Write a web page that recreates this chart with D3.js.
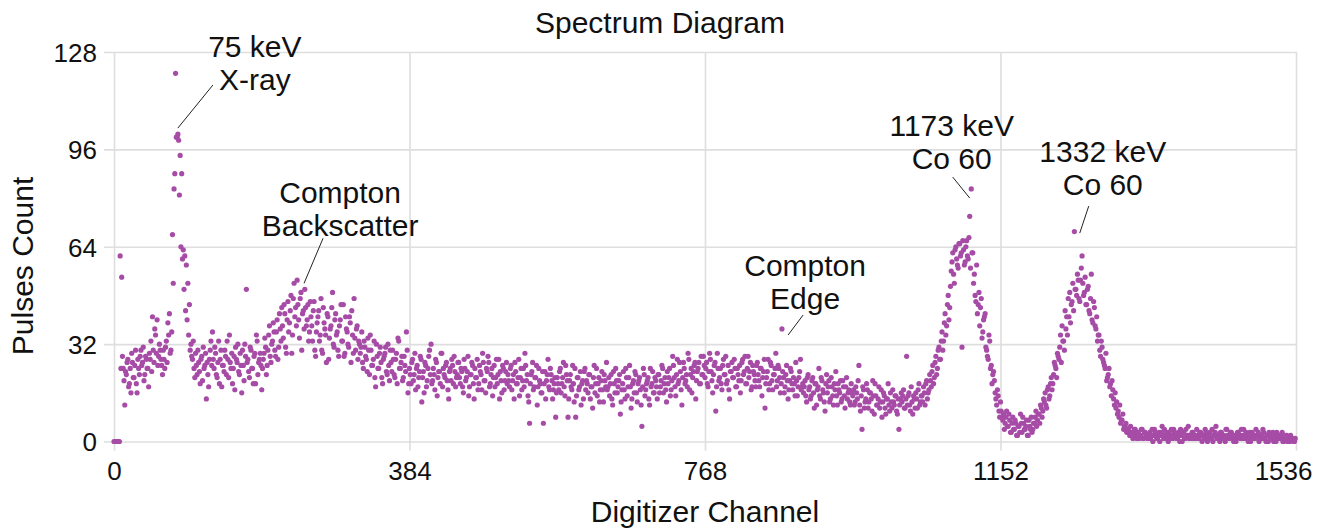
<!DOCTYPE html>
<html>
<head>
<meta charset="utf-8">
<script src="https://cdn.jsdelivr.net/npm/d3@7"></script>
<style>
  body { margin: 0; background: #fff; }
  svg text { font-family: "Liberation Sans", Arial, sans-serif; fill: #111; }
</style>
</head>
<body>
<div id="chart"></div>
<script>
// pulse counts on even channels (0, 2, 4 .. 1534)
var countsEven = [
  0,0,0,0,61,54,24,12,22,27,19,16,26,21,30,16,24,28,25,31,22,27,24,29,33,41,26,35,40,28,30,25,
  30,24,33,39,42,30,68,83,121,100,99,94,88,63,61,58,52,45,32,27,24,29,22,26,19,28,31,25,14,22,27,33,
  36,24,29,21,33,27,18,25,30,22,27,35,24,19,28,31,26,23,29,16,25,32,50,27,21,30,24,28,19,33,26,29,
  17,27,34,22,30,38,26,33,36,28,40,31,37,44,34,42,29,46,39,48,35,52,44,53,40,47,30,43,50,38,45,36,
  41,33,46,28,39,43,35,30,44,37,26,41,34,38,49,31,42,36,28,40,33,45,29,37,32,41,26,35,47,30,38,33,
  29,36,24,31,27,34,22,30,25,33,18,28,24,31,21,27,29,23,32,20,26,30,22,27,19,33,24,28,21,25,36,16,
  24,19,27,22,17,25,21,28,13,23,26,18,24,30,32,20,22,27,15,23,19,29,24,21,26,17,23,20,25,28,18,22,
  26,19,23,16,24,21,28,18,22,25,14,21,27,19,23,17,26,20,24,28,18,22,15,25,21,19,27,23,16,24,20,26,
  22,18,25,20,14,23,19,27,21,17,24,29,20,15,6,22,26,18,21,12,24,19,16,6,23,20,27,17,22,14,19,8,
  21,17,24,19,26,15,22,8,20,18,25,13,8,21,17,23,19,14,24,20,16,22,18,11,25,19,15,21,17,23,13,20,
  26,18,15,22,12,19,24,16,20,9,17,23,14,21,18,25,11,19,16,22,13,20,17,5,24,15,19,21,12,18,23,16,
  20,14,22,18,25,16,21,13,19,24,17,28,21,15,27,20,23,12,26,19,22,29,17,24,21,25,14,23,26,19,22,28,
  21,26,18,29,23,16,25,10,29,20,24,17,27,22,19,25,14,23,21,27,18,24,20,16,26,22,28,19,28,23,17,25,
  22,18,26,20,24,15,23,11,21,27,19,25,17,22,29,20,24,16,37,21,18,25,14,20,23,17,19,26,15,21,27,18,
  16,20,13,22,18,15,21,11,19,17,24,14,20,16,10,22,18,13,21,15,19,23,12,17,20,14,18,11,21,16,13,19,
  15,12,18,14,25,10,4,17,13,19,11,16,14,20,9,15,12,18,13,8,16,11,14,19,10,13,17,12,15,9,4,14,
  13,17,11,28,15,12,18,9,14,16,11,19,13,15,18,12,20,16,22,18,25,21,28,24,31,27,36,33,42,38,48,44,
  56,62,52,64,58,65,61,31,63,59,66,60,74,83,62,55,46,42,49,44,34,40,42,30,27,33,25,22,20,14,17,10,
  13,8,9,6,10,5,7,3,8,4,6,2,5,9,3,6,4,7,2,5,8,4,6,10,7,9,12,8,14,16,11,18,
  15,21,19,26,24,29,27,35,38,33,43,41,47,49,45,52,69,50,55,47,53,61,48,54,45,51,42,55,39,44,37,33,
  35,28,31,26,24,20,22,18,15,17,12,11,9,8,6,7,4,5,3,4,2,3,1,4,2,3,1,2,4,1,3,2,
  1,3,2,0,4,2,1,3,2,5,1,2,3,0,2,4,1,3,2,1,2,4,0,3,1,2,5,2,1,3,2,1,
  2,1,3,0,2,4,1,2,3,1,0,2,5,1,2,3,1,2,0,4,2,1,3,2,1,0,3,2,1,2,4,1,
  2,0,3,1,2,1,4,2,0,2,1,3,1,2,0,2,1,3,2,0,1,2,1,3,0,1,2,1,0,1,1,0
];

// pulse counts on odd channels (1, 3, 5 .. 1535)
var countsOdd = [
  0,0,0,0,24,28,20,23,26,18,24,29,21,25,19,27,22,30,26,20,28,24,18,27,23,30,37,29,25,32,27,22,
  27,31,26,35,29,36,52,88,100,101,81,64,60,50,43,40,35,30,28,33,21,25,30,23,27,20,24,29,26,18,30,25,
  27,31,22,26,19,30,25,23,28,33,21,26,29,24,17,27,32,22,25,30,20,28,26,23,31,24,19,29,35,22,27,25,
  24,29,31,25,35,28,32,39,30,36,27,42,33,38,45,31,40,36,43,29,47,41,38,45,34,49,42,37,44,40,33,46,
  38,43,30,36,41,33,47,29,39,35,42,27,37,44,32,40,35,30,38,45,33,28,41,36,31,39,43,29,34,37,27,32,
  31,26,33,28,23,30,35,25,27,21,32,24,29,26,19,28,31,22,25,30,23,27,21,29,34,24,26,20,28,23,30,19,
  22,26,20,29,24,18,23,27,21,16,25,20,28,22,19,24,17,26,21,23,29,18,22,25,20,14,24,27,19,23,21,26,
  21,24,18,27,20,23,15,22,26,19,24,21,17,25,22,29,20,16,23,26,19,24,21,18,27,22,14,20,25,17,23,19,
  20,24,17,22,26,19,21,15,24,20,18,25,22,13,19,23,17,21,25,18,20,16,23,19,14,22,18,24,20,17,21,16,
  19,23,16,21,18,25,20,14,22,17,19,24,15,21,18,12,20,23,17,19,22,14,18,21,16,24,19,13,20,17,22,18,
  17,21,19,14,23,16,20,18,22,13,19,17,24,15,21,18,14,20,23,16,19,21,12,18,22,17,20,14,24,19,16,21,
  18,22,16,20,24,19,17,23,21,15,20,25,18,22,19,26,17,21,24,20,18,27,22,16,23,26,20,24,19,28,22,25,
  24,19,23,27,20,22,26,18,24,21,19,25,22,28,20,17,23,26,21,24,18,22,25,20,27,23,19,24,21,26,18,23,
  20,25,22,18,24,21,27,19,23,17,26,20,22,24,18,25,21,19,23,16,22,20,17,24,19,21,15,20,18,23,17,19,
  18,15,21,17,14,20,16,19,12,18,15,21,17,13,19,16,20,14,18,12,17,15,19,16,13,20,15,18,14,17,12,16,
  17,13,16,20,12,15,18,11,14,17,13,16,10,15,19,12,14,11,17,13,15,9,14,12,16,11,13,15,10,14,12,16,
  15,11,14,12,16,10,13,15,11,14,17,12,15,13,16,19,14,17,20,23,19,26,22,30,27,33,30,39,35,45,40,51,
  59,55,63,60,57,65,62,66,58,64,61,67,57,62,52,48,58,45,38,47,36,41,31,28,35,24,19,23,16,12,15,8,
  10,7,4,8,5,9,3,6,4,7,2,5,3,6,8,4,5,2,7,4,3,6,8,5,9,6,11,10,13,12,17,14,
  19,17,22,25,21,28,31,26,33,30,37,35,41,39,46,43,50,48,53,46,57,52,49,45,50,43,47,40,46,38,41,35,
  30,33,27,25,29,21,24,19,20,14,16,13,10,12,7,9,5,6,4,3,5,2,3,4,1,3,2,4,1,3,2,1,
  2,1,4,2,3,1,2,0,3,2,4,1,2,3,1,2,4,2,1,3,0,2,3,1,4,2,1,2,3,1,2,4,
  1,3,2,2,1,3,0,2,1,4,2,3,1,2,0,3,2,1,4,2,1,3,2,0,2,1,3,2,4,1,2,3,
  1,2,0,3,2,1,2,3,1,2,4,1,0,2,3,1,2,0,1,3,2,1,2,0,1,2,0,1,2,1,0,1
];

var xTicks = [0, 384, 768, 1152, 1536];
var yTicks = [0, 32, 64, 96, 128];

// peak annotations: label lines, and the channel / count the leader points at
var annotLabels = [
  ["75 keV", "X-ray"],
  ["Compton", "Backscatter"],
  ["Compton", "Edge"],
  ["1173 keV", "Co 60"],
  ["1332 keV", "Co 60"]
];
var annotChannels = [83, 247, 876, 1112, 1255];
var annotCounts = [103, 52, 35, 80, 68.5];

var points = [];
countsEven.forEach(function(c, i) { points.push({ ch: i * 2, count: c }); });
countsOdd.forEach(function(c, i) { points.push({ ch: i * 2 + 1, count: c }); });

var W = 1331, H = 529;
var margin = {top: 52, right: 35, bottom: 87.5, left: 114};
var width = W - margin.left - margin.right;
var height = H - margin.top - margin.bottom;

var svg = d3.select("#chart").append("svg")
    .attr("width", W)
    .attr("height", H);

var g = svg.append("g")
    .attr("transform", "translate(" + margin.left + "," + margin.top + ")");

var x = d3.scaleLinear().domain([0, 1536]).range([0, width]);
var y = d3.scaleLinear().domain([0, 128]).range([height, 0]);

// grid lines double as tick marks
var yAxis = g.append("g")
    .call(d3.axisLeft(y).tickValues(yTicks).tickSize(-width - 1).tickPadding(17));
yAxis.select(".domain").remove();
yAxis.selectAll(".tick line")
    .attr("x1", -10)
    .attr("stroke", "#dedede")
    .attr("stroke-width", 1.6);
yAxis.selectAll("text")
    .style("font-size", "26px")
    .attr("dy", "0.36em");

var xAxis = g.append("g")
    .attr("transform", "translate(0," + height + ")")
    .call(d3.axisBottom(x).tickValues(xTicks).tickFormat(d3.format("d")).tickSize(9).tickPadding(11));
xAxis.select(".domain").remove();
xAxis.selectAll(".tick line")
    .attr("y1", 9)
    .attr("y2", -height)
    .attr("stroke", "#dedede")
    .attr("stroke-width", 1.6);
xAxis.selectAll("text")
    .style("font-size", "26px");
xAxis.selectAll(".tick").filter(function(d) { return d === 1536; })
    .select("text")
    .attr("text-anchor", "end")
    .attr("dx", 16);

// points
g.append("g")
    .selectAll("circle")
    .data(points)
    .enter().append("circle")
    .attr("cx", function(d) { return x(d.ch); })
    .attr("cy", function(d) { return y(d.count); })
    .attr("r", 2.6)
    .attr("fill", "#a64ca6");

// annotation offsets in pixels from the leader tip
var annotOffsets = [
  {lx: 35, ly: -43, tx: 77, ty: -71},
  {lx: 19, ly: -45, tx: 36, ty: -80},
  {lx: 15, ly: -20, tx: 17, ty: -59},
  {lx: -17, ly: -21, tx: -18, ty: -62},
  {lx: 9, ly: -27, tx: 23, ty: -71}
];

var annot = g.append("g").selectAll("g")
    .data(annotLabels)
    .enter().append("g")
    .attr("transform", function(d, i) {
        return "translate(" + x(annotChannels[i]) + "," + y(annotCounts[i]) + ")";
    });

annot.append("line")
    .attr("x1", 0)
    .attr("y1", 0)
    .attr("x2", function(d, i) { return annotOffsets[i].lx; })
    .attr("y2", function(d, i) { return annotOffsets[i].ly; })
    .attr("stroke", "#222")
    .attr("stroke-width", 1);

annot.each(function(d, i) {
    var t = d3.select(this).append("text")
        .attr("text-anchor", "middle")
        .style("font-size", "30px");
    d.forEach(function(line, k) {
        t.append("tspan")
            .attr("x", annotOffsets[i].tx)
            .attr("y", annotOffsets[i].ty + k * 33)
            .text(line);
    });
});

// titles
svg.append("text")
    .attr("x", 660)
    .attr("y", 33)
    .attr("text-anchor", "middle")
    .style("font-size", "30px")
    .text("Spectrum Diagram");

svg.append("text")
    .attr("x", margin.left + width / 2)
    .attr("y", 522)
    .attr("text-anchor", "middle")
    .style("font-size", "30px")
    .text("Digitizer Channel");

svg.append("text")
    .attr("transform", "translate(33,266) rotate(-90)")
    .attr("text-anchor", "middle")
    .style("font-size", "30px")
    .text("Pulses Count");
</script>
</body>
</html>
